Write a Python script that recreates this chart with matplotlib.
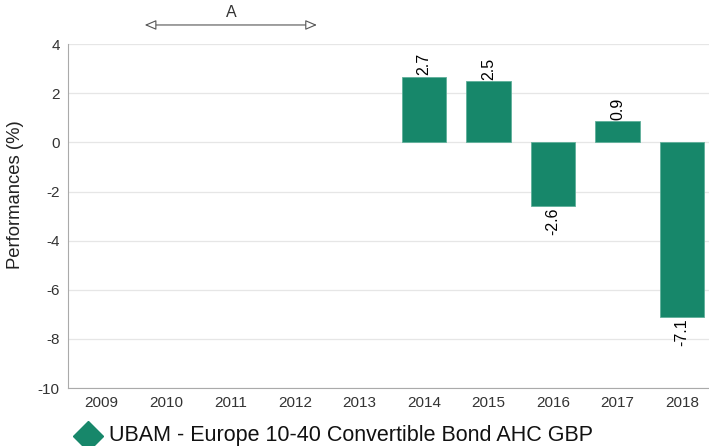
import matplotlib.pyplot as plt
import matplotlib.transforms as mtransforms
from matplotlib.lines import Line2D

plt.rcParams['font.family'] = ['Liberation Sans', 'DejaVu Sans']
plt.rcParams['axes.unicode_minus'] = False

years = ["2009", "2010", "2011", "2012", "2013", "2014", "2015", "2016", "2017", "2018"]
perf = [None, None, None, None, None, 2.68, 2.5, -2.6, 0.88, -7.1]
perf_labels = ["", "", "", "", "", "2.7", "2.5", "-2.6", "0.9", "-7.1"]
yticks = [4, 2, 0, -2, -4, -6, -8, -10]
fund_name = "UBAM - Europe 10-40 Convertible Bond AHC GBP"
period_label = "A"
period_span = (0.67, 3.34)

bar_col = "#17876a"

fig = plt.figure(figsize=(7.09, 4.46), dpi=100)
ax = fig.add_axes([0.0959, 0.130, 0.9041, 0.771])

xs = [i for i, v in enumerate(perf) if v is not None]
vals = [v for v in perf if v is not None]
ax.bar(xs, vals, width=0.69, color=bar_col, edgecolor="#5fb09a", linewidth=0.6, zorder=3)

# value labels, rotated like the original
for i, v in enumerate(perf):
    if v is None:
        continue
    if v >= 0:
        ax.text(i, v + 0.05, perf_labels[i], rotation=90, ha="center", va="bottom",
                fontsize=11.5, color="black", zorder=4)
    else:
        ax.text(i, v - 0.05, perf_labels[i], rotation=90, ha="center", va="top",
                fontsize=11.5, color="black", zorder=4)

ax.set_xlim(-0.52, 9.42)
ax.set_ylim(-10, 4)
ax.set_xticks(range(len(years)))
ax.set_xticklabels(years)
ax.set_yticks(yticks)
ax.tick_params(axis="both", length=0, labelsize=11, colors="#333333", pad=6)
ax.grid(axis="y", color="#e6e6e6", linewidth=0.9, zorder=0)
for s in ["top", "right"]:
    ax.spines[s].set_visible(False)
ax.spines["left"].set_color("#aaaaaa")
ax.spines["bottom"].set_color("#aaaaaa")
ax.spines["left"].set_linewidth(0.8)
ax.spines["bottom"].set_linewidth(0.8)
ax.set_ylabel("Performances (%)", fontsize=13.3, color="#222222")
ax.yaxis.set_label_coords(-0.068, 0.562)

# period arrow above the plot
trans = mtransforms.blended_transform_factory(ax.transData, fig.transFigure)
ax.annotate("", xy=(period_span[0], 0.944), xytext=(period_span[1], 0.944),
            xycoords=trans, textcoords=trans, annotation_clip=False,
            arrowprops=dict(arrowstyle="<|-|>,head_length=0.7,head_width=0.3",
                            edgecolor="#555555", facecolor="white", lw=0.8,
                            shrinkA=0, shrinkB=0, mutation_scale=10))
ax.text(sum(period_span) / 2, 0.955, period_label, transform=trans, ha="center",
        va="bottom", fontsize=11.5, color="#333333")

# legend drawn by hand at the bottom edge
fig.add_artist(Line2D([0.124], [0.022], marker="D", color=bar_col, markersize=15.5,
                      linestyle="none", transform=fig.transFigure))
fig.text(0.1535, 0.024, fund_name, fontsize=15.5, color="#111111", va="center", ha="left")

fig.savefig("out.png", dpi=100)
